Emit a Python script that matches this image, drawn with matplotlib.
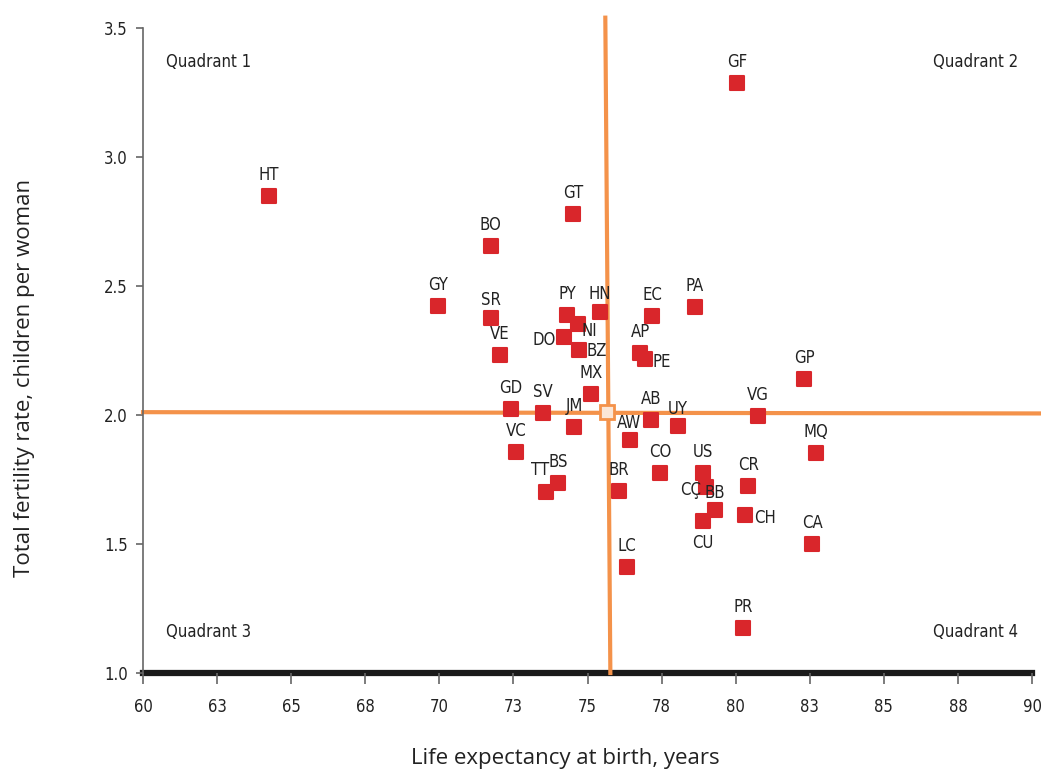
import matplotlib.pyplot as plt
from matplotlib.ticker import FixedLocator

# country codes, life expectancy (years), total fertility rate
codes = ["HT", "GF", "GT", "BO", "GY", "SR", "PY", "HN", "NI", "DO", "BZ", "VE",
         "EC", "PA", "AP", "PE", "GP", "MX", "GD", "SV", "JM", "AB", "UY", "VG",
         "AW", "VC", "MQ", "CO", "US", "CR", "CÇ", "BB", "CH", "CU", "BS", "TT",
         "BR", "LC", "CA", "PR"]
life_exp = [64.25, 80.05, 74.51, 71.74, 69.96, 71.74, 74.31, 75.42, 74.68, 74.21,
            74.71, 72.05, 77.18, 78.63, 76.78, 76.94, 82.31, 75.12, 72.42, 73.50,
            74.55, 77.14, 78.06, 80.76, 76.44, 72.59, 82.71, 77.45, 78.90, 80.42,
            79.00, 79.30, 80.32, 78.90, 74.00, 73.60, 76.06, 76.33, 82.58, 80.25]
fertility = [2.85, 3.287, 2.779, 2.655, 2.422, 2.376, 2.388, 2.399, 2.353, 2.302,
             2.252, 2.233, 2.384, 2.419, 2.240, 2.217, 2.140, 2.081, 2.023, 2.008,
             1.953, 1.981, 1.957, 1.996, 1.903, 1.857, 1.853, 1.775, 1.775, 1.725,
             1.721, 1.632, 1.612, 1.589, 1.736, 1.702, 1.705, 1.411, 1.500, 1.174]

# regional reference point (average)
ref_x = 75.65
ref_y = 2.010

x_ticks = [60, 62.5, 65, 67.5, 70, 72.5, 75, 77.5, 80, 82.5, 85, 87.5, 90]
x_tick_labels = ["60", "63", "65", "68", "70", "73", "75", "78", "80", "83", "85", "88", "90"]
y_ticks = [1.0, 1.5, 2.0, 2.5, 3.0, 3.5]
y_tick_labels = ["1.0", "1.5", "2.0", "2.5", "3.0", "3.5"]

quadrants = ["Quadrant 1", "Quadrant 2", "Quadrant 3", "Quadrant 4"]

# label offsets in points (default is straight above)
label_offsets = {
    "NI": (8, -5), "DO": (-14, -2), "BZ": (13, -1), "PE": (12, -2),
    "CÇ": (-11, -2), "CH": (14, -2), "CU": (0, -16), "TT": (-4, 16),
    "BB": (0, 12), "SR": (0, 13), "HN": (0, 13), "UY": (0, 12), "AW": (-1, 12),
}

RED = "#d9262b"
ORANGE = "#f4924a"
NARROW = ["Liberation Sans Narrow", "DejaVu Sans"]

fig = plt.figure(figsize=(10.41, 7.71), dpi=100)
ax = fig.add_axes([0.1374, 0.1271, 0.8540, 0.8366])
ax.set_xlim(60, 90)
ax.set_ylim(1.0, 3.5)

# quadrant lines (slightly skewed as in the original)
ax.plot([75.60, 75.77], [3.54, 1.0], color=ORANGE, lw=3, clip_on=False, zorder=2)
ax.plot([60, 90.3], [2.011, 2.006], color=ORANGE, lw=3, clip_on=False, zorder=2)
ax.plot([ref_x], [ref_y], marker="s", ms=10, mfc="#fbe6d6", mec=ORANGE, mew=2,
        zorder=3)

ax.scatter(life_exp, fertility, marker="s", s=100, color=RED, edgecolors=RED,
           linewidths=1.5, zorder=4)
for c, xv, yv in zip(codes, life_exp, fertility):
    dx, dy = label_offsets.get(c, (0, 15))
    ax.annotate(c, (xv, yv), xytext=(dx, dy), textcoords="offset points",
                ha="center", va="center", fontsize=12, family=NARROW,
                stretch="condensed", color="#222222", zorder=5)

q_pos = [(62.2, 3.37), (88.1, 3.37), (62.2, 1.16), (88.1, 1.16)]
for q, (qx, qy) in zip(quadrants, q_pos):
    ax.text(qx, qy, q, ha="center", va="center", fontsize=12, family=NARROW,
            stretch="condensed", color="#222222")

ax.xaxis.set_major_locator(FixedLocator(x_ticks))
ax.set_xticklabels(x_tick_labels)
ax.yaxis.set_major_locator(FixedLocator(y_ticks))
ax.set_yticklabels(y_tick_labels)
for lab in ax.get_xticklabels() + ax.get_yticklabels():
    lab.set_family(NARROW)
    lab.set_stretch("condensed")
    lab.set_fontsize(12)
    lab.set_color("#222222")
ax.tick_params(axis="x", length=8, width=1.2, color="#666666", pad=10)
ax.tick_params(axis="y", length=5, width=1.2, color="#666666", pad=6)

for side in ["top", "right"]:
    ax.spines[side].set_visible(False)
ax.spines["left"].set_color("#666666")
ax.spines["left"].set_linewidth(1.2)
ax.spines["bottom"].set_color("#1a1a1a")
ax.spines["bottom"].set_linewidth(4.5)
ax.spines["bottom"].set_zorder(1)

ax.set_xlabel("Life expectancy at birth, years", fontsize=16, family="Open Sans",
              color="#222222")
ax.xaxis.set_label_coords(0.475, -0.116)
ax.set_ylabel("Total fertility rate, children per woman", fontsize=16,
              family="Open Sans", color="#222222")
ax.yaxis.set_label_coords(-0.122, 0.457)

fig.savefig("out.png", dpi=100)
